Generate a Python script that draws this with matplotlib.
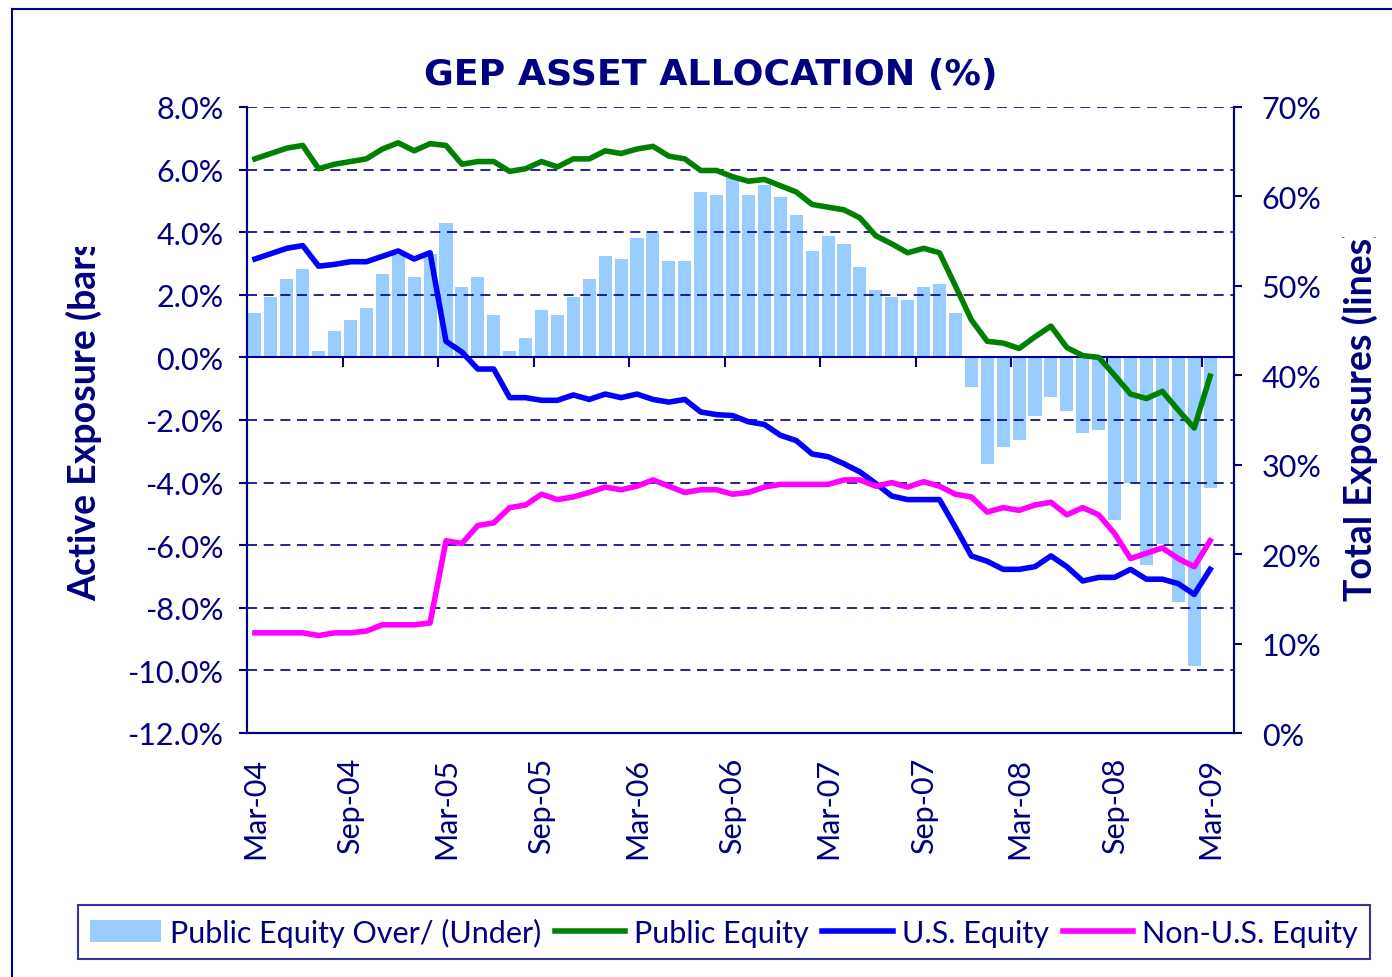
import matplotlib
matplotlib.use("Agg")
import matplotlib.pyplot as plt
import numpy as np
from matplotlib import font_manager
from matplotlib.transforms import Bbox
from matplotlib.lines import Line2D
from matplotlib.patches import Patch

# ---------------- data ----------------
tick_labels = ["Mar-04", "Sep-04", "Mar-05", "Sep-05", "Mar-06", "Sep-06",
               "Mar-07", "Sep-07", "Mar-08", "Sep-08", "Mar-09"]

over_under = [1.42, 1.94, 2.51, 2.83, 0.21, 0.85, 1.20, 1.58, 2.67, 3.26,
              2.57, 3.31, 4.30, 2.26, 2.57, 1.36, 0.21, 0.63, 1.52, 1.36,
              1.94, 2.51, 3.25, 3.15, 3.82, 4.04, 3.09, 3.09, 5.29, 5.19,
              5.73, 5.19, 5.51, 5.13, 4.56, 3.41, 3.89, 3.63, 2.89, 2.16,
              1.94, 1.84, 2.26, 2.35, 1.42, -0.96, -3.42, -2.85, -2.65, -1.86,
              -1.28, -1.70, -2.43, -2.33, -5.21, -4.00, -6.62, -5.95, -7.83, -9.87,
              -4.16]

public_equity = [64.2, 64.8, 65.4, 65.7, 63.1, 63.6, 63.9, 64.2, 65.3, 66.0,
                 65.1, 65.9, 65.7, 63.6, 63.9, 63.9, 62.8, 63.1, 63.9, 63.3,
                 64.2, 64.2, 65.1, 64.8, 65.3, 65.6, 64.5, 64.2, 62.9, 62.9,
                 62.2, 61.7, 61.9, 61.2, 60.5, 59.1, 58.8, 58.5, 57.6, 55.6,
                 54.7, 53.7, 54.2, 53.7, 50.0, 46.2, 43.8, 43.6, 43.0, 44.3,
                 45.5, 43.1, 42.2, 42.0, 40.0, 37.9, 37.4, 38.2, 36.1, 34.1,
                 39.9]

us_equity = [53.0, 53.6, 54.2, 54.5, 52.2, 52.4, 52.7, 52.7, 53.3, 53.9,
             53.0, 53.7, 43.8, 42.6, 40.7, 40.7, 37.5, 37.5, 37.2, 37.2,
             37.8, 37.3, 37.9, 37.5, 37.9, 37.3, 37.0, 37.3, 35.9, 35.6,
             35.5, 34.8, 34.5, 33.3, 32.7, 31.2, 30.9, 30.1, 29.2, 27.9,
             26.5, 26.1, 26.1, 26.1, 23.0, 19.8, 19.2, 18.3, 18.3, 18.6,
             19.8, 18.6, 17.0, 17.4, 17.4, 18.3, 17.2, 17.2, 16.7, 15.5,
             18.3]

non_us_equity = [11.2, 11.2, 11.2, 11.2, 10.9, 11.2, 11.2, 11.4, 12.1, 12.1,
                 12.1, 12.3, 21.5, 21.2, 23.2, 23.5, 25.2, 25.5, 26.7, 26.1,
                 26.4, 26.9, 27.5, 27.2, 27.6, 28.3, 27.6, 26.9, 27.2, 27.2,
                 26.7, 26.9, 27.5, 27.8, 27.8, 27.8, 27.8, 28.3, 28.3, 27.6,
                 28.0, 27.5, 28.1, 27.6, 26.7, 26.4, 24.7, 25.2, 24.9, 25.5,
                 25.8, 24.4, 25.2, 24.4, 22.3, 19.5, 20.1, 20.7, 19.5, 18.6,
                 21.5]

# ---------------- style ----------------
NAVY = "#000080"
FONT = ["Lato", "DejaVu Sans"]
plt.rcParams["font.family"] = FONT

# pick a condensed face for the title if one is installed
cond = [f.name for f in font_manager.fontManager.ttflist
        if ("Condensed" in f.name or "Narrow" in f.name or f.stretch in ("condensed", "semi-condensed"))]
TITLE_FONT = ([cond[0]] if cond else []) + ["Roboto", "DejaVu Sans"]

W, H = 1392, 978
fig = plt.figure(figsize=(W / 100, H / 100), dpi=100)

x = np.arange(len(over_under))
n_cat = len(over_under) + 1

ax = fig.add_axes([247 / W, 1 - 734 / H, (1234 - 247) / W, (734 - 108) / H])
ax2 = ax.twinx()

ax.bar(x, over_under, width=0.82, color="#99CCFF", zorder=2)
ax.set_xlim(-0.5, n_cat - 0.5)
ax.set_ylim(-12, 8)
ax.set_yticks(np.arange(-12, 8.1, 2))
ax.set_yticklabels([f"{v:.1f}%" for v in np.arange(-12, 8.1, 2)])
for v in np.arange(-10, 8.1, 2):
    ax.axhline(v, color=NAVY, lw=1.2, ls=(0, (6, 4)), zorder=3)
ax.axhline(0, color=NAVY, lw=1.5, zorder=4)

lw = 4.0
l1, = ax2.plot(x, public_equity, color="#008000", lw=lw, label="Public Equity")
l2, = ax2.plot(x, us_equity, color="#0000FF", lw=lw, label="U.S. Equity")
l3, = ax2.plot(x, non_us_equity, color="#FF00FF", lw=lw, label="Non-U.S. Equity")
ax2.set_ylim(0, 70)
ax2.set_yticks(np.arange(0, 71, 10))
ax2.set_yticklabels([f"{v}%" for v in range(0, 71, 10)])

for a in (ax, ax2):
    for s in a.spines.values():
        s.set_color(NAVY)
        s.set_linewidth(1.5)
    a.spines["top"].set_visible(False)
    a.tick_params(colors=NAVY, labelsize=22, width=1.5, length=6)
ax.tick_params(axis="y", pad=11)
ax2.tick_params(axis="y", pad=14)

# category labels on centres, tick marks on the zero line at boundaries
label_pos = np.arange(0, len(over_under), 6)
ax.set_xticks(label_pos)
ax.set_xticklabels(tick_labels, rotation=90)
ax.tick_params(axis="x", length=0, pad=17, labelsize=22)
for t in ax.get_xticklabels():
    t.set_color(NAVY)
for b in np.arange(-0.5 + 6, n_cat - 1, 6):
    ax.plot([b, b], [0, -0.27], color=NAVY, lw=1.5, zorder=4, clip_on=False)

# title, fitted to (roughly) the original width
title = fig.text(711 / W, 1 - 75 / H, "GEP ASSET ALLOCATION (%)", ha="center", va="center",
                 fontsize=30, fontweight="bold", color=NAVY, family=TITLE_FONT)
r = fig.canvas.get_renderer()
wpx = title.get_window_extent(r).width
title.set_fontsize(min(36, 30 * 575 / wpx))

# axis titles (truncated at top as in the original)
t1 = fig.text(84 / W, 1 - 601 / H, "Active Exposure (bars)", rotation=90,
              ha="center", va="bottom", fontsize=27, fontweight="bold", color=NAVY)
t1.set_clip_box(Bbox.from_extents(0, 0, 200, H - 248))
t1.set_clip_on(True)
t2 = fig.text(1360 / W, 1 - 601 / H, "Total Exposures (lines)", rotation=90,
              ha="center", va="bottom", fontsize=27, fontweight="bold", color=NAVY)
t2.set_clip_box(Bbox.from_extents(1300, 0, W, H - 238))
t2.set_clip_on(True)

# legend
handles = [Patch(facecolor="#99CCFF", edgecolor="none"), l1, l2, l3]
labels = ["Public Equity Over/ (Under)", "Public Equity", "U.S. Equity", "Non-U.S. Equity"]
leg = fig.legend(handles, labels, loc="center",
                 bbox_to_anchor=(78 / W, 1 - 960 / H, (1370 - 78) / W, 54 / H),
                 ncol=4, fontsize=22, frameon=True, fancybox=False,
                 handlelength=2.3, handleheight=0.75, handletextpad=0.3, columnspacing=0.4,
                 borderpad=0.4, borderaxespad=0, mode="expand")
leg.get_frame().set_edgecolor(NAVY)
leg.get_frame().set_linewidth(1.5)
for t in leg.get_texts():
    t.set_color(NAVY)

# outer frame lines
fig.add_artist(Line2D([12 / W, 12 / W], [0, 1 - 10 / H], color=NAVY, lw=1.5))
fig.add_artist(Line2D([12 / W, 1], [1 - 10 / H, 1 - 10 / H], color=NAVY, lw=1.5))

fig.savefig("out.png", dpi=100)
